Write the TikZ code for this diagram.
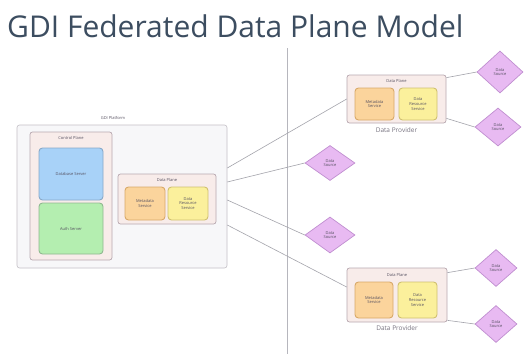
\documentclass[tikz,border=0pt]{standalone}
\usepackage{fontspec}
\setmainfont{Open Sans}
\usetikzlibrary{shapes.geometric}
\definecolor{titlec}{HTML}{3C4D60}
\definecolor{linec}{HTML}{A4A4AC}
\definecolor{outerfill}{HTML}{F7F7F9}
\definecolor{outerdraw}{HTML}{C4C0C6}
\definecolor{pinkfill}{HTML}{F8ECEA}
\definecolor{pinkdraw}{HTML}{B8A8B0}
\definecolor{bluefill}{HTML}{A8D2F8}
\definecolor{bluedraw}{HTML}{88A8C8}
\definecolor{greenfill}{HTML}{B4EEB0}
\definecolor{greendraw}{HTML}{90B890}
\definecolor{orangefill}{HTML}{FBD49C}
\definecolor{orangedraw}{HTML}{D8A868}
\definecolor{yellowfill}{HTML}{FBF09C}
\definecolor{yellowdraw}{HTML}{D0C070}
\definecolor{violetfill}{HTML}{E8BAF2}
\definecolor{violetdraw}{HTML}{C08ED0}
\definecolor{smalltext}{HTML}{555060}
\tikzset{
  x=1pt, y=-1pt,
  tiny/.style={font=\fontsize{4}{4.6}\selectfont, text=smalltext, align=center},
  outerbox/.style={draw=outerdraw, fill=outerfill, rounded corners=2.5pt, line width=0.6pt, inner sep=0pt},
  planebox/.style={draw=pinkdraw, fill=pinkfill, rounded corners=2.5pt, line width=0.7pt, inner sep=0pt},
  innerbox/.style={rounded corners=3.5pt, line width=0.9pt, inner sep=0pt, tiny},
  bluebox/.style={innerbox, draw=bluedraw, fill=bluefill},
  greenbox/.style={innerbox, draw=greendraw, fill=greenfill},
  orangebox/.style={innerbox, draw=orangedraw, fill=orangefill},
  yellowbox/.style={innerbox, draw=yellowdraw, fill=yellowfill},
  src/.style={diamond, draw=violetdraw, fill=violetfill, line width=0.7pt, inner sep=0pt, tiny},
  conn/.style={draw=linec, line width=0.6pt},
  caption/.style={font=\fontsize{6.5}{7}\selectfont, text=smalltext!80},
}
\begin{document}
\begin{tikzpicture}
\useasboundingbox[fill=white] (0,0) rectangle (525,354);
% title
\node[anchor=base west, inner sep=0pt, text=titlec, font=\fontsize{30}{32}\selectfont] (title) at (7,37) {GDI Federated Data Plane Model};
% divider
\coordinate (divtop) at (287,48);
\coordinate (divbot) at (287,354);
\draw[draw=linec!80, line width=0.7pt] (divtop) -- (divbot);

% GDI platform
\node[outerbox, minimum width=210pt, minimum height=143pt] (gdi) at (122,196.5) {};
\node[tiny] (gdilbl) at (113,118) {GDI Platform};
\node[planebox, minimum width=82pt, minimum height=128pt] (ctrl) at (71,196) {};
\node[tiny] (ctrllbl) at (71,138) {Control Plane};
\node[bluebox, minimum width=64pt, minimum height=52pt] (dbs) at (71,174) {Database Server};
\node[greenbox, minimum width=64pt, minimum height=51pt] (auth) at (71,228.5) {Auth Server};
\node[planebox, minimum width=98pt, minimum height=50pt] (dp) at (167,199) {};
\node[tiny] (dplbl) at (167,180) {Data Plane};
\node[orangebox, minimum width=40pt, minimum height=33pt] (dpo) at (145,203.5) {Metadata\\Service};
\node[yellowbox, minimum width=40pt, minimum height=33pt] (dpy) at (188,203.5) {Data\\Resource\\Service};

% provider 1
\node[planebox, minimum width=99pt, minimum height=48pt] (p1) at (396.5,99) {};
\node[tiny] (p1lbl) at (396.5,81) {Data Plane};
\node[orangebox, minimum width=39pt, minimum height=32pt] (p1o) at (374.5,104) {Metadata\\Service};
\node[yellowbox, minimum width=38pt, minimum height=32pt] (p1y) at (418,104) {Data\\Resource\\Service};
\node[caption] (p1cap) at (396.5,130) {Data Provider};

% provider 2
\node[planebox, minimum width=100pt, minimum height=54pt] (p2) at (397,295) {};
\node[tiny] (p2lbl) at (397,275) {Data Plane};
\node[orangebox, minimum width=38pt, minimum height=36pt] (p2o) at (374,300) {Metadata\\Service};
\node[yellowbox, minimum width=39pt, minimum height=36pt] (p2y) at (417.5,300) {Data\\Resource\\Service};
\node[caption] (p2cap) at (397,328) {Data Provider};

% data sources
\node[src, minimum width=50pt, minimum height=35pt] (d1) at (330,163) {Data\\Source};
\node[src, minimum width=50pt, minimum height=36pt] (d2) at (330,235) {Data\\Source};
\node[src, minimum width=46pt, minimum height=42pt] (dA) at (500,72) {Data\\Source};
\node[src, minimum width=46pt, minimum height=38pt] (dB) at (498,127) {Data\\Source};
\node[src, minimum width=42pt, minimum height=37pt] (dC) at (496,268) {Data\\Source};
\node[src, minimum width=42pt, minimum height=37pt] (dD) at (496,324) {Data\\Source};

% connectors
\draw[conn] ([yshift=28.5pt]gdi.east) -- (p1.west);
\draw[conn] ([yshift=14.5pt]gdi.east) -- (d1.west);
\draw[conn] ([yshift=-3.5pt]gdi.east) -- (d2.west);
\draw[conn] ([yshift=-28.5pt]gdi.east) -- ([yshift=8pt]p2.west);
\draw[conn] ([yshift=-3pt]p1.north east) -- (dA.west);
\draw[conn] ([yshift=5pt]p1.south east) -- (dB.west);
\draw[conn] ([yshift=-5pt]p2.north east) -- (dC.west);
\draw[conn] ([yshift=2pt]p2.south east) -- (dD.west);
\end{tikzpicture}
\end{document}
